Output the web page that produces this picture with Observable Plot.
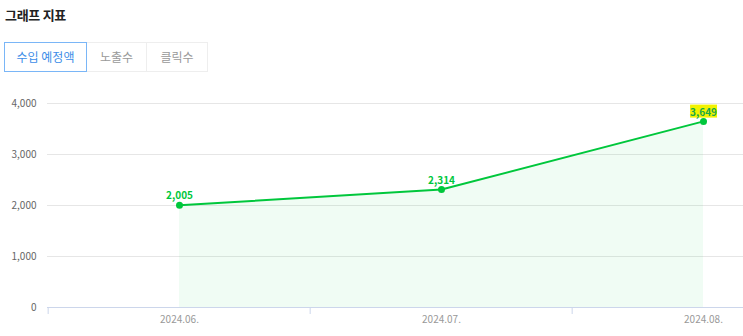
<!DOCTYPE html>
<html><head><meta charset="utf-8">
<script src="https://cdn.jsdelivr.net/npm/d3@7"></script>
<script src="https://cdn.jsdelivr.net/npm/@observablehq/plot@0.6"></script>
<style>
body{margin:0;background:#fff;font-family:"Noto Sans CJK KR","Noto Sans",sans-serif;width:743px;height:336px;overflow:hidden;position:relative}
.title{position:absolute;left:5px;top:5px;font-size:13px;font-weight:700;color:#222;letter-spacing:-0.3px}
.tabs{position:absolute;left:4px;top:42px;display:flex}
.tab{height:28px;line-height:28px;text-align:center;font-size:12px;color:#999;border:1px solid #eee;box-sizing:content-box}
.tab+.tab{border-left:none}
.tab.on{color:#3d8ee8;border:1px solid #7ab6f7}
#chart{position:absolute;left:0;top:85px}
</style></head><body>
<div class="title">그래프 지표</div>
<div class="tabs"><div class="tab on" style="width:81px">수입 예정액</div><div class="tab" style="width:59px">노출수</div><div class="tab" style="width:60px">클릭수</div></div>
<div id="chart"></div>
<script>
const months = ["2024.06.", "2024.07.", "2024.08."];
const values = [2005, 2314, 3649];
const highlighted = ["2024.08."];
const yTicks = [0, 1000, 2000, 3000, 4000];

const data = months.map((m, i) => ({month: m, value: values[i]}));
const xRange = [47, 835];
const bw = (xRange[1] - xRange[0]) / months.length;
const green = "#00c73c";

const plot = Plot.plot({
  width: 743, height: 250,
  marginLeft: 47, marginRight: 0, marginTop: 18, marginBottom: 28,
  style: {fontFamily: "'Noto Sans CJK KR','Noto Sans',sans-serif", overflow: "visible"},
  x: {type: "band", domain: months, range: xRange, padding: 0},
  y: {domain: [0, 4000], ticks: yTicks},
  marks: [
    Plot.ruleY(yTicks.slice(1), {stroke: "#e6e6e6"}),
    Plot.axisY({ticks: yTicks, tickSize: 0, tickPadding: 11, fontSize: 10, fill: "#666", tickFormat: d3.format(","), label: null}),
    Plot.areaY(data, {x: "month", y: "value", fill: green, fillOpacity: 0.06}),
    Plot.ruleY([0], {stroke: "#ccd6eb"}),
    Plot.axisX({tickSize: 0, tickPadding: 8, fontSize: 10, fill: "#999", label: null}),
    Plot.axisX({ticks: months.concat(), tickSize: 7, stroke: "#ccd6eb", text: null, dx: -bw / 2, label: null}),
    Plot.lineY(data, {x: "month", y: "value", stroke: green, strokeWidth: 2}),
    Plot.dot(data, {x: "month", y: "value", r: 3.5, fill: green}),
    Plot.text(data.filter(d => !highlighted.includes(d.month)), {x: "month", y: "value", text: d => d3.format(",")(d.value), dy: -9, fontSize: 10, fontWeight: "bold", fill: green}),
    Plot.text(data.filter(d => highlighted.includes(d.month)), {x: "month", y: "value", text: d => d3.format(",")(d.value), dy: -9, fontSize: 10, fontWeight: "bold", fill: "#1aa84a", ariaDescription: "highlight"})
  ]
});
document.getElementById("chart").append(plot);
plot.querySelectorAll('g[aria-description="highlight"] text').forEach(t => {
  const b = t.getBBox();
  const r = document.createElementNS("http://www.w3.org/2000/svg", "rect");
  r.setAttribute("x", b.x); r.setAttribute("y", b.y + 1);
  r.setAttribute("width", b.width); r.setAttribute("height", b.height - 2);
  r.setAttribute("fill", "#f2f200");
  const tr = t.getAttribute("transform");
  if (tr) r.setAttribute("transform", tr);
  t.parentNode.insertBefore(r, t);
});
</script>
</body></html>
